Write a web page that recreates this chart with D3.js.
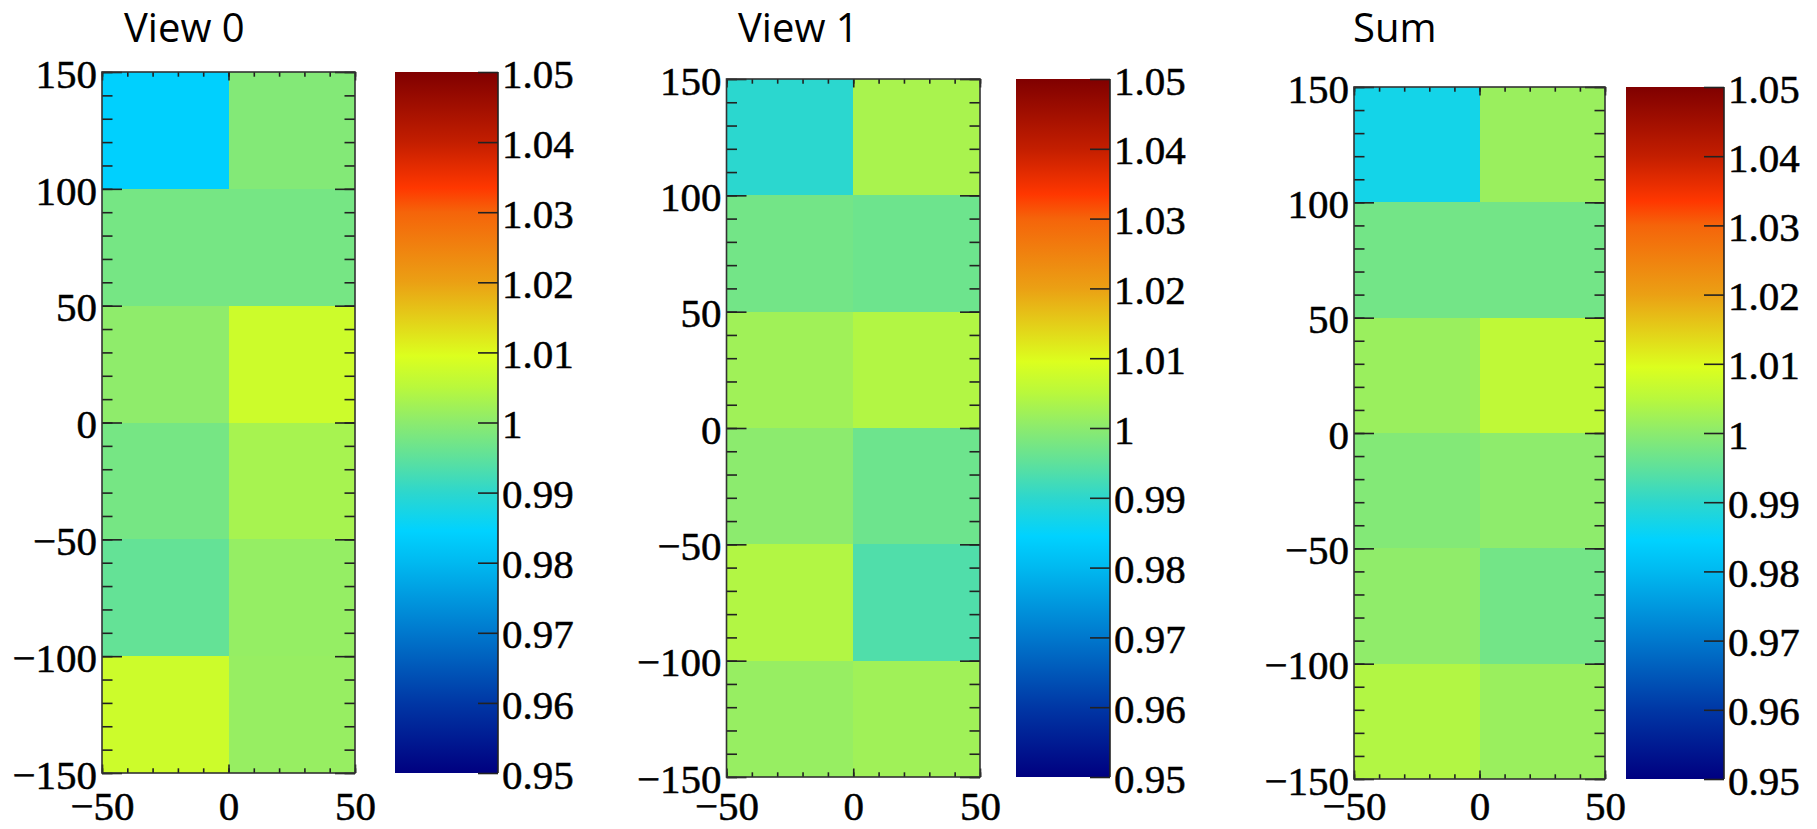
<!DOCTYPE html>
<html>
<head>
<meta charset="utf-8">
<script src="https://cdn.jsdelivr.net/npm/d3@7"></script>
<style>
  body { margin: 0; background: #fff; }
  svg { display: block; }
  .lbl text { font-family: "Liberation Serif", "DejaVu Serif", "Times New Roman", serif; font-size: 41px; fill: #000; stroke: #000; stroke-width: 0.5px; }
  .ttl { font-family: "Open Sans", "Noto Sans", sans-serif; font-size: 40px; fill: #000; }
</style>
</head>
<body>
<div id="chart"></div>
<script>
// bin edges of the 2D histograms
const xEdges = [-50, 0, 50];
const yEdges = [-150, -100, -50, 0, 50, 100, 150];

const titles = ["View 0", "View 1", "Sum"];

// ratio per bin, rows from y=-150 (bottom) to y=150 (top), [x<0, x>0]
const view0 = [
  [1.0075, 1.0012],
  [0.9955, 1.0010],
  [0.9975, 1.0030],
  [1.0003, 1.0075],
  [0.9975, 0.9975],
  [0.9842, 0.9990]
];
const view1 = [
  [1.0012, 1.0022],
  [1.0042, 0.9935],
  [1.0000, 0.9966],
  [1.0022, 1.0042],
  [0.9972, 0.9966],
  [0.9898, 1.0032]
];
const sumView = [
  [1.0042, 1.0016],
  [1.0004, 0.9972],
  [0.9990, 1.0002],
  [1.0016, 1.0058],
  [0.9972, 0.9972],
  [0.9870, 1.0016]
];
const panelsData = [view0, view1, sumView];

const yTicks = [-150, -100, -50, 0, 50, 100, 150];
const yMinor = d3.range(-150, 151, 10);
const xTicks = [-50, 0, 50];
const xMinor = d3.range(-50, 51, 10);
const zTicks = [0.95, 0.96, 0.97, 0.98, 0.99, 1.00, 1.01, 1.02, 1.03, 1.04, 1.05];
const zLabels = ["0.95", "0.96", "0.97", "0.98", "0.99", "1", "1.01", "1.02", "1.03", "1.04", "1.05"];

// rainbow palette (value -> colour)
const palStops = [0.95, 0.96, 0.97, 0.98, 0.9845, 0.99, 0.995, 1.0, 1.005, 1.0095, 1.02, 1.03, 1.0335, 1.04, 1.05];
const palColors = ["#000080", "#0037a5", "#0078cd", "#00b9f0", "#00d2ff", "#2dd7cd", "#5fe19b",
                   "#8ceb6e", "#b9f83c", "#dcff1e", "#eba014", "#f5640a", "#ff3700", "#c31e00", "#800000"];

const W = 1817, H = 829;

// panel frames (px)
const layout = [
  { plot: [102, 355, 72, 773],   cb: [395, 498],   titleX: 124 },
  { plot: [726.5, 980, 79, 777], cb: [1016, 1110], titleX: 738 },
  { plot: [1354, 1605, 87, 779], cb: [1626, 1724], titleX: 1353 }
];

const color = d3.scaleLinear().domain(palStops).range(palColors).interpolate(d3.interpolateRgb).clamp(true);

const svg = d3.select("#chart").append("svg")
  .attr("width", W).attr("height", H);

const defs = svg.append("defs");
const grad = defs.append("linearGradient")
  .attr("id", "pal")
  .attr("x1", 0).attr("y1", 1).attr("x2", 0).attr("y2", 0);
grad.selectAll("stop").data(palStops).enter().append("stop")
  .attr("offset", d => (d - 0.95) / 0.1)
  .attr("stop-color", (d, i) => palColors[i]);

const ink = "#222";

layout.forEach((L, p) => {
  const [x0, x1, y0, y1] = L.plot;
  const data = panelsData[p];
  const g = svg.append("g");

  const x = d3.scaleLinear().domain([-50, 50]).range([x0, x1]);
  const y = d3.scaleLinear().domain([-150, 150]).range([y1, y0]);
  const z = d3.scaleLinear().domain([0.95, 1.05]).range([y1, y0]);

  // title
  svg.append("text")
    .attr("class", "ttl")
    .attr("x", L.titleX).attr("y", 42)
    .text(titles[p]);

  // cells
  const cells = [];
  data.forEach((row, j) => row.forEach((v, i) => cells.push({ i, j, v })));
  g.selectAll("rect.cell").data(cells).enter().append("rect")
    .attr("class", "cell")
    .attr("x", d => x(xEdges[d.i]))
    .attr("width", d => x(xEdges[d.i + 1]) - x(xEdges[d.i]))
    .attr("y", d => y(yEdges[d.j + 1]))
    .attr("height", d => y(yEdges[d.j]) - y(yEdges[d.j + 1]))
    .attr("fill", d => color(d.v))
    .attr("shape-rendering", "crispEdges");

  const tickStyle = sel => {
    sel.select(".domain").remove();
    sel.selectAll("line").attr("stroke", ink).attr("stroke-width", 1.6);
  };

  // inward ticks, left and right sides of y
  g.append("g").attr("transform", `translate(${x0},0)`)
    .call(d3.axisRight(y).tickValues(yMinor).tickSize(10.5).tickFormat("")).call(tickStyle);
  g.append("g").attr("transform", `translate(${x0},0)`)
    .call(d3.axisRight(y).tickValues(yTicks).tickSize(20).tickFormat("")).call(tickStyle);
  g.append("g").attr("transform", `translate(${x1},0)`)
    .call(d3.axisLeft(y).tickValues(yMinor).tickSize(10.5).tickFormat("")).call(tickStyle);
  g.append("g").attr("transform", `translate(${x1},0)`)
    .call(d3.axisLeft(y).tickValues(yTicks).tickSize(20).tickFormat("")).call(tickStyle);

  // inward ticks, top and bottom of x
  g.append("g").attr("transform", `translate(0,${y1})`)
    .call(d3.axisTop(x).tickValues(xMinor).tickSize(4.7).tickFormat("")).call(tickStyle);
  g.append("g").attr("transform", `translate(0,${y1})`)
    .call(d3.axisTop(x).tickValues(xTicks).tickSize(8.5).tickFormat("")).call(tickStyle);
  g.append("g").attr("transform", `translate(0,${y0})`)
    .call(d3.axisBottom(x).tickValues(xMinor).tickSize(4.7).tickFormat("")).call(tickStyle);
  g.append("g").attr("transform", `translate(0,${y0})`)
    .call(d3.axisBottom(x).tickValues(xTicks).tickSize(8.5).tickFormat("")).call(tickStyle);

  // frame
  g.append("rect")
    .attr("x", x0).attr("y", y0)
    .attr("width", x1 - x0).attr("height", y1 - y0)
    .attr("fill", "none").attr("stroke", "#333").attr("stroke-width", 1.6);

  // tick labels
  const labelStyle = sel => {
    sel.select(".domain").remove();
    sel.selectAll("line").remove();
    sel.attr("class", "lbl").attr("font-family", null).attr("font-size", null);
  };
  const minus = v => (v < 0 ? "\u2212" + Math.abs(v) : String(v));

  g.append("g").attr("transform", `translate(${x0},0)`)
    .call(d3.axisLeft(y).tickValues(yTicks).tickSize(0).tickPadding(5).tickFormat(minus))
    .call(labelStyle)
    .selectAll("text").attr("dy", "0.37em");

  g.append("g").attr("transform", `translate(0,${y1})`)
    .call(d3.axisBottom(x).tickValues(xTicks).tickSize(0).tickFormat(minus))
    .call(labelStyle)
    .selectAll("text").attr("dy", null).attr("y", 820 - y1);

  // colour bar
  const [c0, c1] = L.cb;
  g.append("rect")
    .attr("x", c0).attr("y", y0)
    .attr("width", c1 - c0).attr("height", y1 - y0)
    .attr("fill", "url(#pal)");

  g.append("g").attr("transform", `translate(${c1},0)`)
    .call(d3.axisLeft(z).tickValues(zTicks).tickSize(20).tickFormat("")).call(tickStyle);
  g.append("line")
    .attr("x1", c1).attr("x2", c1).attr("y1", y0).attr("y2", y1)
    .attr("stroke", ink).attr("stroke-width", 1.6);

  g.append("g").attr("transform", `translate(${c1},0)`)
    .call(d3.axisRight(z).tickValues(zTicks).tickSize(0).tickPadding(4)
      .tickFormat((d, i) => zLabels[i]))
    .call(labelStyle)
    .selectAll("text").attr("dy", "0.37em");
});
</script>
</body>
</html>
